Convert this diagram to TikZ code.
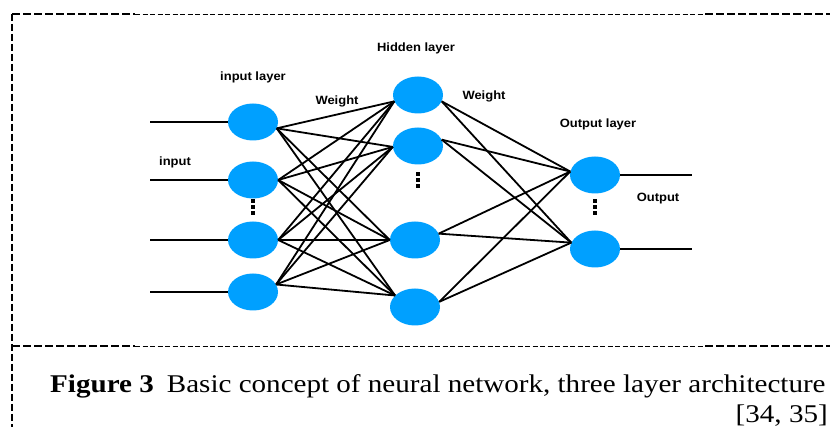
\documentclass[tikz,border=0pt]{standalone}
\usepackage{fontspec}
\setmainfont{Liberation Serif}
\newfontfamily\lblfont{Liberation Sans}
\definecolor{nodeblue}{RGB}{0,160,255}
\usetikzlibrary{shapes.geometric}
\tikzset{
  neuron/.style={ellipse, fill=nodeblue, minimum width=50pt, minimum height=37pt, inner sep=0pt},
  lbl/.style={font=\lblfont\bfseries\fontsize{12}{14}\selectfont, inner sep=0pt, xscale=1.08},
  wire/.style={line width=1.8pt, black},
  dotsq/.style={fill=black},
  thickdash/.style={line width=1.6pt, dash pattern=on 8pt off 3pt},
  thindash/.style={line width=0.9pt, dash pattern=on 5pt off 2.5pt},
  captxt/.style={font=\fontsize{25.5}{30}\selectfont, inner sep=0pt, xscale=1.14}
}
\begin{document}
\begin{tikzpicture}[x=1pt,y=-1pt]
\useasboundingbox (0,0) rectangle (830,427);
\clip (0,0) rectangle (830,427);
\fill[white] (0,0) rectangle (830,427);
% frame
\coordinate (tl) at (12,14);
\coordinate (bl) at (12,427);
\coordinate (t1) at (135,14);
\coordinate (t2) at (705,14);
\coordinate (tr) at (832,14);
\coordinate (ml) at (12,346);
\coordinate (m1) at (135,346);
\coordinate (m2) at (705,346);
\coordinate (mr) at (832,346);
\draw[thickdash] (tl) -- (t1);
\draw[thindash] (t1) -- (t2);
\draw[thickdash] (t2) -- (tr);
\draw[thickdash] (ml) -- (m1);
\draw[thindash] (m1) -- (m2);
\draw[thickdash] (m2) -- (mr);
\draw[line width=1.5pt, dash pattern=on 7pt off 3pt] (tl) -- (bl);
% neurons
\node[neuron] (i1) at (253,122) {};
\node[neuron] (i2) at (253,180) {};
\node[neuron] (i3) at (253,240) {};
\node[neuron] (i4) at (253,292) {};
\node[neuron] (h1) at (418,95) {};
\node[neuron] (h2) at (418,146) {};
\node[neuron] (h3) at (415,240) {};
\node[neuron] (h4) at (415,307) {};
\node[neuron] (o1) at (595,175) {};
\node[neuron] (o2) at (595,249) {};
% vertical dots
\foreach \cx/\cy in {253/207, 418/180, 595/207}{
  \foreach \d in {-6,0,6}{
    \fill[dotsq] (\cx-1.8,\cy+\d-1.8) rectangle (\cx+1.8,\cy+\d+1.8);
  }
}
% input lines
\coordinate (s1) at (150,122);
\coordinate (s2) at (150,180);
\coordinate (s3) at (150,240);
\coordinate (s4) at (150,292);
\draw[wire] (s1) -- (i1.west);
\draw[wire] (s2) -- (i2.west);
\draw[wire] (s3) -- (i3.west);
\draw[wire] (s4) -- (i4.west);
% output lines
\coordinate (e1) at (692,175);
\coordinate (e2) at (692,249);
\draw[wire] (o1.east) -- (e1);
\draw[wire] (o2.east) -- (e2);
% input -> hidden
\foreach \a/\sa in {i1/-15,i2/0,i3/0,i4/18}{
  \foreach \b/\sb in {h1/195,h2/182,h3/180,h4/150}{
    \draw[wire] (\a.\sa) -- (\b.\sb);
  }
}
% hidden -> output
\foreach \a/\sa in {h1/-15,h2/15,h3/15,h4/12}{
  \foreach \b/\sb in {o1/172,o2/165}{
    \draw[wire] (\a.\sa) -- (\b.\sb);
  }
}
% labels
\node[lbl] (l1) at (253,77) {input layer};
\node[lbl] (l2) at (175,162) {input};
\node[lbl] (l3) at (337,101) {Weight};
\node[lbl] (l4) at (416,48) {Hidden layer};
\node[lbl] (l5) at (484,96) {Weight};
\node[lbl] (l6) at (598,124) {Output layer};
\node[lbl] (l7) at (658,199) {Output};
% caption
\node[captxt, anchor=base west] (cap1) at (50,392) {\textbf{Figure 3}\hspace{0.45em}Basic concept of neural network, three layer architecture};
\node[captxt, anchor=base east] (cap2) at (828,422) {[34, 35]};
\end{tikzpicture}
\end{document}
